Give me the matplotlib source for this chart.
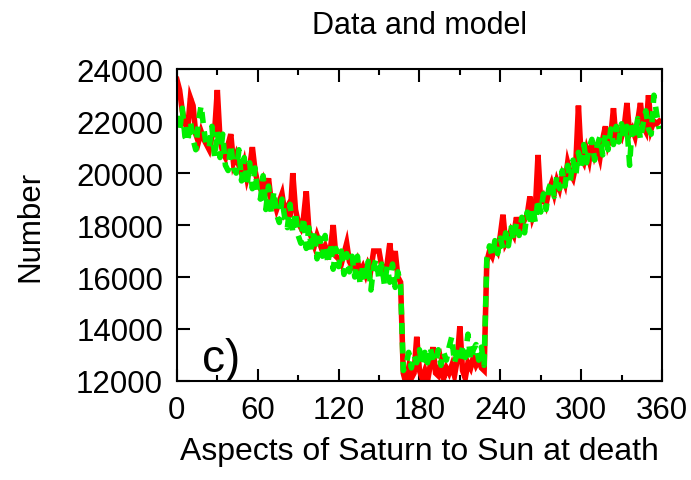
import matplotlib
matplotlib.use("Agg")
import matplotlib.pyplot as plt
import numpy as np
from matplotlib.ticker import MultipleLocator

plt.rcParams['font.family'] = ['Liberation Sans', 'DejaVu Sans']

# aspect angle (degrees), sampled every 2 degrees
angle = np.arange(0, 360, 2)

# observed counts (red)
data = [
    23600, 23200, 22400, 21900, 21700, 22900, 22600, 21500, 21200, 21600,
    21300, 21100, 20900, 21400, 21600, 23200, 21300, 20800, 20600, 21100,
    21500, 20400, 20700, 20300, 20000, 20400, 19800, 20200, 21000, 20100,
    19600, 19400, 19700, 19300, 19800, 18900, 19000, 18600, 18900, 19200,
    18500, 18700, 18300, 20000, 18600, 18100, 17900, 18300, 19300, 17800,
    17500, 17200, 17600, 17300, 17000, 17200, 16900, 17100, 18000, 16800,
    16700, 16500, 16900, 17300, 16600, 16400, 16300, 16600, 16200, 16400,
    16100, 16500, 16300, 17000, 17000, 17000, 16400, 16200, 16500, 17300,
    16300, 17000, 16000, 15800, 12300, 11900, 12500, 12100, 12300, 13700,
    12400, 12100, 12400, 12000, 12600, 13300, 12300, 12200, 12700, 12100,
    12500, 12300, 12600, 12200, 12800, 14100, 12400, 12100, 12700, 12500,
    12900, 12600, 12800, 12500, 12400, 16600, 17000, 16800, 17200, 17000,
    17600, 18400, 17300, 17500, 17800, 17600, 18300, 17800, 18000, 18200,
    18400, 19100, 18300, 18600, 20700, 18900, 19100, 18800, 19300, 19600,
    19200, 19700, 19400, 19900, 19600, 20400, 20000, 19800, 20300, 22600,
    20600, 20400, 20900, 20500, 21200, 20700, 21000, 20600, 21300, 21800,
    21100, 21400, 22500, 21200, 21600, 21400, 21800, 22700, 21500, 21700,
    21400, 22000, 22700, 21800, 21600, 23000, 21700, 22000, 21900, 22000,
]

# model counts (green)
model = [
    22200, 21600, 22500, 21400, 21200, 22000, 21300, 20900, 22000, 22600,
    21700, 21000, 21000, 21800, 20600, 21600, 20600, 21500, 20300, 20100,
    21100, 20200, 20000, 20900, 19700, 20600, 19500, 20400, 19400, 20200,
    19200, 19000, 19900, 18600, 19500, 18500, 19300, 18400, 18100, 19000,
    18300, 17900, 18800, 17700, 18500, 17600, 17300, 18300, 17100, 17900,
    17000, 17800, 16700, 17500, 16800, 17600, 16500, 17300, 16300, 17100,
    16400, 17000, 16100, 16900, 16200, 16800, 16000, 16800, 15700, 16500,
    15900, 16600, 15500, 16400, 16700, 15900, 16500, 15700, 16400, 15800,
    16500, 15600, 16200, 15700, 12400, 12600, 13100, 12500, 13000, 12700,
    13200, 12600, 13100, 12700, 13300, 12800, 12700, 13200, 12600, 13100,
    12800, 13300, 13700, 12700, 13100, 12800, 13300, 12900, 13800, 12800,
    13200, 13400, 12800, 13300, 12600, 16700, 17200, 16800, 17400, 16900,
    17500, 17100, 17700, 17200, 17900, 17400, 18100, 17600, 18300, 17700,
    18500, 18000, 18700, 18100, 19000, 18500, 19200, 18600, 19400, 19700,
    19100, 19900, 19400, 20100, 19500, 20300, 19700, 20500, 19900, 20800,
    20200, 21100, 20400, 21000, 21300, 20500, 21100, 21400, 20700, 21500,
    20900, 21700, 21100, 21800, 21200, 21900, 21300, 21800, 20300, 22000,
    21400, 22100, 21300, 21900, 22400, 21700, 21500, 23000, 22300, 21700,
]

fig = plt.figure(figsize=(6.91, 4.81), dpi=100)
ax = fig.add_axes([0.256, 0.206, 0.702, 0.648])

ax.plot(angle, data, color='#ff0000', lw=4, solid_joinstyle='miter')
ax.plot(angle, model, color='#00f000', lw=4, dashes=(2.0, 1.5))

ax.set_xlim(0, 360)
ax.set_ylim(12000, 24000)
ax.xaxis.set_major_locator(MultipleLocator(60))
ax.xaxis.set_minor_locator(MultipleLocator(30))
ax.yaxis.set_major_locator(MultipleLocator(2000))
ax.tick_params(which='both', direction='in', top=True, right=True, width=1.5)
ax.tick_params(which='major', length=9, labelsize=22.5, pad=10)
ax.tick_params(which='minor', length=4.5)
for s in ax.spines.values():
    s.set_linewidth(1.5)

ax.set_title('Data and model', fontsize=22, pad=26)
ax.set_xlabel('Aspects of Saturn to Sun at death', fontsize=23, labelpad=8)
ax.set_ylabel('Number', fontsize=22.5, labelpad=22)
ax.text(19, 12400, 'c)', fontsize=33)

fig.savefig('out.png', dpi=100)
